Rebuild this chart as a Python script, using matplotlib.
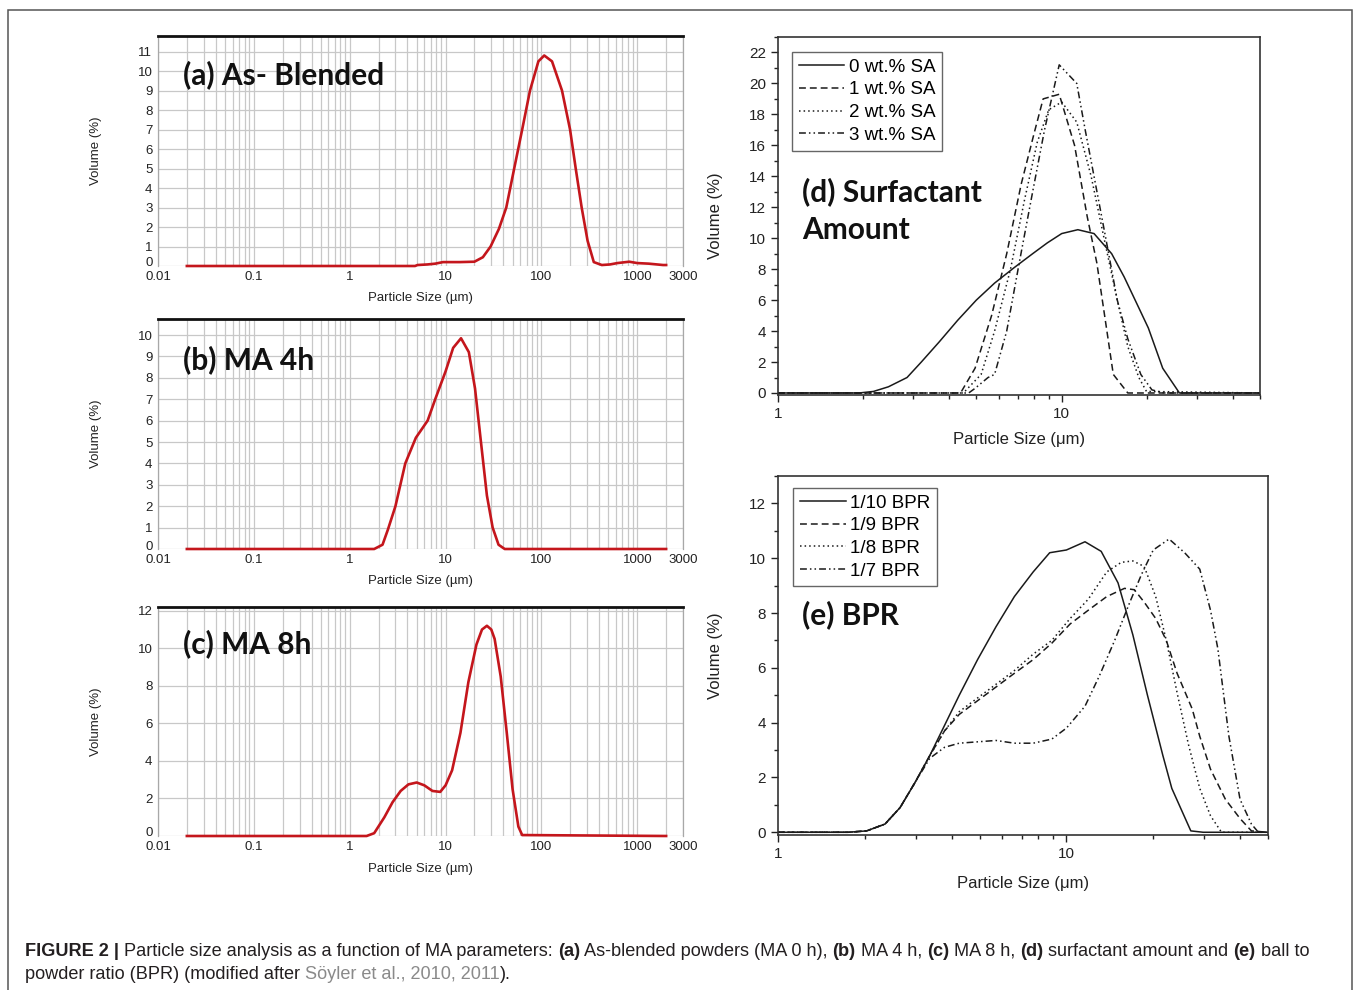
import matplotlib
matplotlib.use("Agg")
import matplotlib.pyplot as plt
import matplotlib.transforms as mtransforms
import numpy as np
from matplotlib.patches import Rectangle
from matplotlib.ticker import LogLocator, MultipleLocator, NullFormatter

# =============================================================================
# Data
# =============================================================================

# (a) As-blended, (b) MA 4h, (c) MA 8h  -- particle size (um) vs volume (%)
SIZE_A = [0.02, 4.8, 5.1, 6.5, 7.8, 9.4, 14, 20, 24.5, 29.5, 36, 43, 52, 63,
          76, 93, 107, 129, 164, 199, 228, 263, 303, 352, 427, 520, 620, 825,
          1000, 1320, 1860, 2000]
VOL_A = [0.0, 0.0, 0.05, 0.08, 0.12, 0.2, 0.2, 0.22, 0.45, 1.0, 1.9, 3.0, 5.0,
         7.0, 9.0, 10.5, 10.8, 10.5, 9.0, 7.0, 5.0, 3.0, 1.3, 0.2, 0.05, 0.08,
         0.15, 0.22, 0.15, 0.12, 0.05, 0.05]

SIZE_B = [0.02, 1.8, 2.2, 2.5, 3.0, 3.8, 4.9, 6.5, 7.8, 10, 12, 14.5, 17.5,
          20.3, 23.4, 27, 31, 35.7, 41.4, 2000]
VOL_B = [0, 0, 0.2, 0.9, 2.0, 4.0, 5.2, 6.0, 7.0, 8.3, 9.4, 9.85, 9.2, 7.5,
         5.0, 2.5, 1.0, 0.2, 0, 0]

SIZE_C = [0.02, 1.5, 1.8, 2.3, 2.8, 3.4, 4.1, 5.0, 6.0, 7.3, 8.8, 10, 11.7,
          14.3, 17.3, 21, 24, 27, 30, 32.5, 37.6, 43.5, 50, 57.5, 63, 2000]
VOL_C = [0, 0, 0.15, 1.0, 1.8, 2.4, 2.75, 2.85, 2.7, 2.4, 2.35, 2.7, 3.5, 5.5,
         8.2, 10.2, 11.0, 11.2, 11.0, 10.5, 8.5, 5.5, 2.5, 0.5, 0.05, 0]

X_TICKS_ABC = [0.01, 0.1, 1, 10, 100, 1000, 3000]
X_TICKLABELS_ABC = ["0.01", "0.1", "1", "10", "100", "1000", "3000"]

# (d) surfactant amount
SA_LABELS = ["0 wt.% SA", "1 wt.% SA", "2 wt.% SA", "3 wt.% SA"]
SA0_X = [1, 1.93, 2.17, 2.45, 2.85, 3.2, 3.7, 4.3, 5.0, 5.8, 6.8, 7.9, 8.9, 10,
         11.4, 13, 15, 16.6, 18.7, 20.2, 22.7, 26, 50]
SA0_Y = [0, 0, 0.1, 0.4, 1.0, 2.0, 3.3, 4.7, 6.0, 7.1, 8.1, 9.0, 9.7, 10.3,
         10.55, 10.3, 9.0, 7.5, 5.5, 4.2, 1.6, 0, 0]
SA1_X = [1, 4.4, 4.95, 5.66, 6.4, 7.2, 8.0, 8.6, 9.8, 11.1, 12.3, 13.3, 14.3,
         15.2, 17.1, 50]
SA1_Y = [0, 0, 1.6, 5.0, 9.0, 13.5, 16.8, 19.0, 19.3, 16.0, 11.4, 8.4, 4.5,
         1.2, 0, 0]
SA2_X = [1, 4.5, 5.2, 5.8, 6.6, 7.4, 8.2, 9.0, 10, 11.3, 12.7, 14.1, 15.7,
         17.1, 18.7, 19.9, 50]
SA2_Y = [0, 0, 1.2, 4.0, 8.0, 12.5, 16.2, 18.3, 18.8, 17.5, 14.0, 10.0, 6.0,
         3.0, 1.0, 0.1, 0]
SA3_X = [1, 4.7, 4.95, 5.5, 5.8, 6.4, 7.1, 7.9, 8.7, 9.8, 11.3, 12.1, 13.0,
         14.3, 15.7, 17.1, 19.0, 20.8, 23, 50]
SA3_Y = [0, 0, 0.3, 1.0, 1.2, 4.0, 8.5, 13.0, 17.0, 21.2, 20.0, 17.0, 14.0,
         10.0, 6.0, 3.5, 1.2, 0.2, 0, 0]

# (e) ball to powder ratio
BPR_LABELS = ["1/10 BPR", "1/9 BPR", "1/8 BPR", "1/7 BPR"]
BPR10_X = [1, 1.75, 2.03, 2.35, 2.65, 2.98, 3.36, 3.78, 4.25, 4.92, 5.7, 6.6,
           7.67, 8.75, 10, 11.6, 13.2, 15.1, 17, 19.1, 21.6, 23.2, 27, 29.8, 50]
BPR10_Y = [0, 0, 0.05, 0.3, 0.9, 1.8, 2.8, 3.9, 5.0, 6.3, 7.5, 8.6, 9.5, 10.2,
           10.3, 10.6, 10.25, 9.1, 7.2, 5.0, 2.8, 1.6, 0.05, 0, 0]
BPR9_X = [1, 1.75, 2.03, 2.35, 2.65, 2.98, 3.36, 3.78, 4.25, 4.92, 5.7, 6.6,
          7.67, 8.9, 10.3, 11.9, 13.8, 15.9, 17.2, 18.6, 20.4, 22.2, 24.2,
          27.3, 29, 31.6, 35.6, 40, 43.8, 50]
BPR9_Y = [0, 0, 0.05, 0.3, 0.9, 1.8, 2.8, 3.7, 4.3, 4.8, 5.3, 5.8, 6.3, 6.9,
          7.6, 8.1, 8.6, 8.9, 8.85, 8.4, 7.8, 7.0, 5.8, 4.5, 3.5, 2.3, 1.2,
          0.5, 0.05, 0]
BPR8_X = [1, 1.75, 2.03, 2.35, 2.65, 2.98, 3.36, 3.78, 4.25, 4.92, 5.7, 6.6,
          7.67, 8.9, 10.3, 11.9, 13.8, 15.5, 17, 18.6, 20.4, 22.2, 24.3, 26.5,
          29, 31.6, 34.5, 50]
BPR8_Y = [0, 0, 0.05, 0.3, 0.9, 1.8, 2.8, 3.7, 4.4, 4.9, 5.4, 5.9, 6.5, 7.0,
          7.8, 8.5, 9.5, 9.85, 9.9, 9.7, 8.6, 7.0, 5.0, 3.2, 1.6, 0.6, 0, 0]
BPR7_X = [1, 1.75, 2.03, 2.35, 2.65, 2.98, 3.36, 3.78, 4.25, 4.92, 5.7, 6.6,
          7.67, 8.9, 10, 11.6, 13, 14.7, 16.6, 18.2, 20, 22.7, 25.7, 29, 31.6,
          33.5, 36.6, 40, 43.8, 46.3, 50]
BPR7_Y = [0, 0, 0.05, 0.3, 0.9, 1.8, 2.7, 3.1, 3.25, 3.3, 3.35, 3.25, 3.25,
          3.4, 3.8, 4.6, 5.7, 7.0, 8.4, 9.4, 10.3, 10.7, 10.2, 9.6, 8.1, 6.7,
          3.5, 1.2, 0.3, 0, 0]

# =============================================================================
# Settings
# =============================================================================

FIG_W, FIG_H, DPI = 1358, 990, 100
RED = "#c4161c"
GRID = "#c8c8c8"
TEXT = "#231f20"

LINESTYLES = ["-", (0, (4.5, 2.6)), (0, (1, 2)), (0, (4.5, 2, 1, 2, 1, 2))]

CAPTION_1 = [
    ("FIGURE 2 | ", "bold"),
    ("Particle size analysis as a function of MA parameters: ", "normal"),
    ("(a)", "bold"), (" As-blended powders (MA 0 h), ", "normal"),
    ("(b)", "bold"), (" MA 4 h, ", "normal"),
    ("(c)", "bold"), (" MA 8 h, ", "normal"),
    ("(d)", "bold"), (" surfactant amount and ", "normal"),
    ("(e)", "bold"), (" ball to", "normal"),
]
CAPTION_2 = [
    ("powder ratio (BPR) (modified after ", "normal"),
    ("Söyler et al., 2010, 2011", "gray"),
    (").", "normal"),
]


def px_axes(fig, left, top, right, bottom):
    """Add axes from pixel box (origin top-left)."""
    return fig.add_axes([left / FIG_W, 1 - bottom / FIG_H,
                         (right - left) / FIG_W, (bottom - top) / FIG_H])


def style_lab(ax, ymax, yticks):
    ax.set_xscale("log")
    ax.set_xlim(0.01, 3000)
    ax.set_ylim(0, ymax)
    ax.set_xticks(X_TICKS_ABC)
    ax.set_xticklabels(X_TICKLABELS_ABC)
    ax.xaxis.set_minor_locator(LogLocator(base=10, subs=np.arange(2, 10), numticks=30))
    ax.xaxis.set_minor_formatter(NullFormatter())
    ax.set_yticks(yticks)
    ax.grid(True, which="both", axis="x", color=GRID, lw=0.9)
    ax.grid(True, which="major", axis="y", color=GRID, lw=0.9)
    ax.set_axisbelow(True)
    ax.tick_params(which="both", length=0, labelsize=9.5, colors="#222222")
    ax.tick_params(axis="y", pad=4)
    ax.tick_params(axis="x", pad=3.5)
    ax.spines["top"].set_color("#111111")
    ax.spines["top"].set_linewidth(2.0)
    for side in ("left", "right"):
        ax.spines[side].set_color("#a8a8a8")
        ax.spines[side].set_linewidth(0.9)
    ax.spines["bottom"].set_visible(False)
    ax.set_xlabel("Particle Size (µm)", fontsize=9.5, color="#222222")
    ax.set_ylabel("Volume (%)", fontsize=9.5, color="#222222")


def style_origin(ax, ymin, ymax, yticks):
    ax.set_xscale("log")
    ax.set_xlim(1, 50)
    ax.set_ylim(ymin, ymax)
    ax.set_xticks([1, 10])
    ax.set_xticklabels(["1", "10"])
    ax.xaxis.set_minor_locator(LogLocator(base=10, subs=np.arange(2, 10), numticks=30))
    ax.xaxis.set_minor_formatter(NullFormatter())
    ax.set_yticks(yticks)
    ax.yaxis.set_minor_locator(MultipleLocator(1))
    ax.tick_params(which="both", direction="out", width=1.0, labelsize=11,
                   colors="#222222")
    ax.tick_params(which="major", length=5)
    ax.tick_params(which="minor", length=3)
    for side in ax.spines:
        ax.spines[side].set_color("#333333")
        ax.spines[side].set_linewidth(1.2)
    ax.set_xlabel("Particle Size (μm)", fontsize=12, color="#222222")
    ax.set_ylabel("Volume (%)", fontsize=12, color="#222222")


def add_legend(ax, anchor):
    ax.legend(loc="upper left", bbox_to_anchor=anchor, borderaxespad=0,
              fontsize=13.5, frameon=True, fancybox=False, edgecolor="#666666",
              framealpha=1, handlelength=2.45, handletextpad=0.25,
              labelspacing=0.3, borderpad=0.35)


def draw_rich_line(fig, x_px, y_px, pieces, size):
    renderer = fig.canvas.get_renderer()
    x = x_px
    for txt, style in pieces:
        kw = dict(fontsize=size, color=TEXT, family="Liberation Sans")
        if style == "bold":
            kw["fontweight"] = "bold"
        if style == "gray":
            kw["color"] = "#8a8a8a"
        fig.text(x / FIG_W, 1 - y_px / FIG_H, txt, va="baseline", ha="left", **kw)
        probe = fig.text(0, 0, "|" + txt + "|", **kw)
        bars = fig.text(0, 0, "||", **kw)
        w = probe.get_window_extent(renderer).width - bars.get_window_extent(renderer).width
        probe.remove()
        bars.remove()
        x += w


def main():
    plt.rcParams.update({
        "font.family": ["Liberation Sans", "DejaVu Sans"],
        "axes.linewidth": 1.0,
    })
    label_font = dict(family="Lato", fontweight="bold", fontsize=21.5, color="#111111")

    fig = plt.figure(figsize=(FIG_W / DPI, FIG_H / DPI), dpi=DPI)

    # ---- left column: laser diffraction panels ----
    lab_panels = [
        (36, 266, SIZE_A, VOL_A, 11.8, np.arange(0, 12, 1), "(a) As- Blended", 0.83, -0.113),
        (319, 549, SIZE_B, VOL_B, 10.75, np.arange(0, 11, 1), "(b) MA 4h", 0.822, -0.113),
        (607, 836, SIZE_C, VOL_C, 12.2, np.arange(0, 13, 2), "(c) MA 8h", 0.838, -0.118),
    ]
    for top, bottom, xs, ys, ymax, yticks, title, ty, xl in lab_panels:
        ax = px_axes(fig, 158, top, 683, bottom)
        style_lab(ax, ymax, yticks)
        ax.plot(xs, ys, color=RED, lw=1.9, clip_on=False, zorder=3)
        ax.xaxis.set_label_coords(0.5, xl)
        ax.yaxis.set_label_coords(-0.106, 0.5)
        # the "0" label sits a little above the x labels, as in the original
        zero_label = ax.get_yticklabels()[0]
        zero_label.set_transform(zero_label.get_transform()
                                 + mtransforms.ScaledTranslation(0, 4 / DPI, fig.dpi_scale_trans))
        ax.text(0.048, ty, title, transform=ax.transAxes, va="center", ha="left",
                **label_font)

    # ---- (d) surfactant amount ----
    axd = px_axes(fig, 778, 37, 1260, 395)
    style_origin(axd, -0.13, 23, np.arange(0, 23, 2))
    for xs, ys, ls, lab in zip([SA0_X, SA1_X, SA2_X, SA3_X],
                               [SA0_Y, SA1_Y, SA2_Y, SA3_Y], LINESTYLES, SA_LABELS):
        axd.plot(xs, ys, color="#1a1a1a", lw=1.1, linestyle=ls, label=lab)
    add_legend(axd, (0.029, 0.958))
    axd.xaxis.set_label_coords(0.5, -0.103)
    axd.yaxis.set_label_coords(-0.114, 0.5)
    axd.text(0.05, 0.567, "(d) Surfactant", transform=axd.transAxes, va="center",
             ha="left", **label_font)
    axd.text(0.05, 0.461, "Amount", transform=axd.transAxes, va="center",
             ha="left", **label_font)

    # ---- (e) ball to powder ratio ----
    axe = px_axes(fig, 778, 476, 1268, 835)
    style_origin(axe, -0.1, 13, np.arange(0, 13, 2))
    for xs, ys, ls, lab in zip([BPR10_X, BPR9_X, BPR8_X, BPR7_X],
                               [BPR10_Y, BPR9_Y, BPR8_Y, BPR7_Y], LINESTYLES, BPR_LABELS):
        axe.plot(xs, ys, color="#1a1a1a", lw=1.1, linestyle=ls, label=lab)
    add_legend(axe, (0.031, 0.967))
    axe.xaxis.set_label_coords(0.5, -0.114)
    axe.yaxis.set_label_coords(-0.112, 0.5)
    axe.text(0.05, 0.613, "(e) BPR", transform=axe.transAxes, va="center",
             ha="left", **label_font)

    # ---- frame and caption ----
    fig.add_artist(Rectangle((8 / FIG_W, -0.02), (1352 - 8) / FIG_W, 1.02 - 10 / FIG_H,
                             transform=fig.transFigure, fill=False,
                             edgecolor="#555555", lw=1.1))
    draw_rich_line(fig, 25, 956, CAPTION_1, 13.1)
    draw_rich_line(fig, 25, 979, CAPTION_2, 13.1)

    fig.savefig("out.png", dpi=DPI)
    plt.close(fig)


if __name__ == "__main__":
    main()
